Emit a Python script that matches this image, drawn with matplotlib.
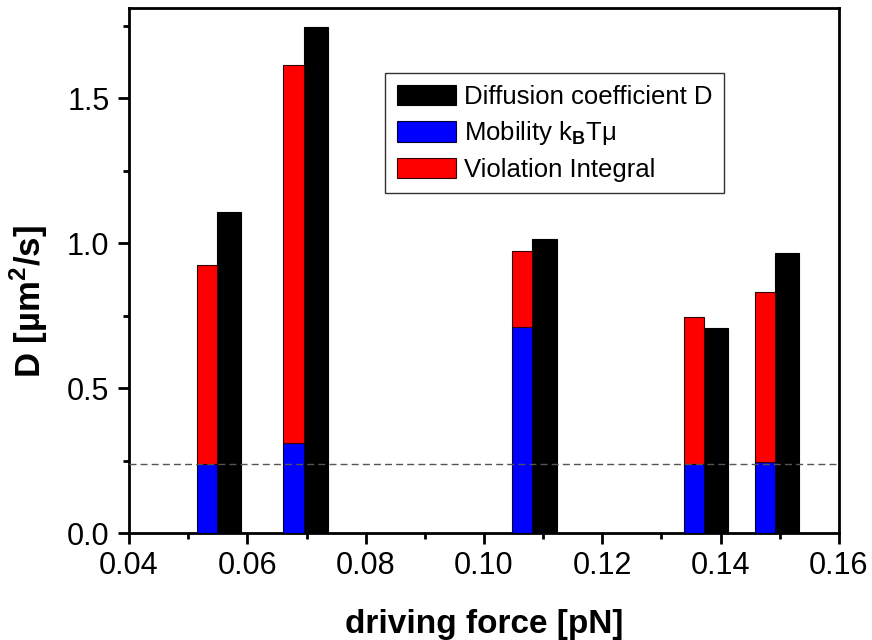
import numpy as np
import matplotlib
matplotlib.use('Agg')
import matplotlib.pyplot as plt

plt.rcParams['font.family'] = ['Liberation Sans', 'DejaVu Sans']
plt.rcParams['mathtext.fontset'] = 'custom'
plt.rcParams['mathtext.rm'] = 'Liberation Sans'
plt.rcParams['mathtext.bf'] = 'Liberation Sans:bold'

# data
force = [0.0549, 0.0695, 0.1082, 0.1372, 0.1492]
diffusion = [1.109, 1.747, 1.013, 0.708, 0.966]
mobility = [0.237, 0.311, 0.710, 0.237, 0.246]
violation = [0.688, 1.305, 0.263, 0.507, 0.586]   # on top of mobility
mob_ref = 0.240

fig = plt.figure(figsize=(8.72, 6.4), dpi=100)
ax = fig.add_axes([0.148, 0.167, 0.814, 0.820])

wl, wr = 0.0034, 0.0041
hb = ax.bar(force, diffusion, width=wr, align='edge', color='black', edgecolor='black', lw=0.8,
            label='Diffusion coefficient D', zorder=3)
hm = ax.bar(force, mobility, width=-wl, align='edge', color='#0000ff', edgecolor='#000033', lw=0.8,
            label=r'Mobility k$_\mathbf{B}$Tμ', zorder=3)
hv = ax.bar(force, violation, width=-wl, bottom=mobility, align='edge', color='#ff0000',
            edgecolor='#330000', lw=0.8, label='Violation Integral', zorder=3)
ax.axhline(mob_ref, color='#555555', lw=1, ls=(0, (5, 3)), zorder=4)

ax.set_xlim(0.04, 0.16)
ax.set_ylim(0, 1.81)
ax.set_xticks([0.04, 0.06, 0.08, 0.10, 0.12, 0.14, 0.16])
ax.set_xticklabels(['0.04', '0.06', '0.08', '0.10', '0.12', '0.14', '0.16'])
ax.set_xticks(np.arange(0.05, 0.16, 0.02), minor=True)
ax.set_yticks([0.0, 0.5, 1.0, 1.5])
ax.set_yticklabels(['0.0', '0.5', '1.0', '1.5'])
ax.set_yticks([0.25, 0.75, 1.25, 1.75], minor=True)
for s in ax.spines.values():
    s.set_linewidth(2)
ax.tick_params(which='major', direction='out', length=8, width=2, labelsize=22, pad=6)
ax.tick_params(axis='x', which='major', pad=5)
ax.tick_params(which='minor', direction='out', length=4, width=2)

ax.set_xlabel('driving force [pN]', fontsize=24, fontweight='bold', labelpad=20)
ax.set_ylabel(r'D [µm$^\mathbf{2}$/s]', fontsize=25, fontweight='bold')
ax.yaxis.set_label_coords(-0.111, 0.442)

leg = ax.legend(handles=[hb, hm, hv], loc='upper left', bbox_to_anchor=(0.361, 0.876),
                borderaxespad=0, fontsize=18.5, frameon=True, fancybox=False,
                handlelength=2.3, handleheight=0.85, handletextpad=0.3,
                labelspacing=0.4, borderpad=0.45)
leg.get_frame().set_edgecolor('black')
leg.get_frame().set_linewidth(1)

fig.savefig('out.png', dpi=100)
